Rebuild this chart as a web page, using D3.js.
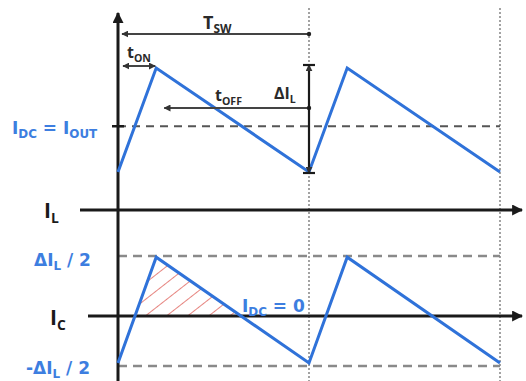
<!DOCTYPE html>
<html><head><meta charset="utf-8">
<script src="https://cdn.jsdelivr.net/npm/d3@7"></script>
<style>body{margin:0;background:#fff}svg{display:block}</style>
</head><body>
<script>
// Time in units of T_SW, on-time fraction
const periods = [0, 1, 2];
const tOn = 0.2;
// Inductor current I_L (normalized, I_OUT ≈ 1)
const ilTimes  = [0, 0.2, 1, 1.2, 2];
const ilValues = [0.75, 1.25, 0.75, 1.25, 0.75];
const iDC = 0.97;
// Capacitor current I_C (in units of ΔI_L)
const icTimes  = [0, 0.2, 1, 1.2, 2];
const icValues = [-0.47, 0.49, -0.47, 0.49, -0.47];
const icLevels = [0.5, -0.5];

const W = 526, H = 381;
const blue = "#2f72d9", labelBlue = "#3d7ee0", ink = "#1a1a1a", grey = "#8a8a8a";
const svg = d3.select("body").append("svg").attr("width", W).attr("height", H)
  .style("font-family", "'Open Sans', 'DejaVu Sans', sans-serif");

const x = d3.scaleLinear().domain([0, 2]).range([118, 500]);
const yL = d3.scaleLinear().domain([0.75, 1.25]).range([172, 68]);
const yC = d3.scaleLinear().domain([-0.5, 0, 0.5]).range([366, 316, 256]);
const ilAxisY = 210;

const defs = svg.append("defs");
function marker(id, color, size) {
  defs.append("marker").attr("id", id).attr("viewBox", "0 0 10 10")
    .attr("refX", 9).attr("refY", 5).attr("markerWidth", size).attr("markerHeight", size)
    .attr("orient", "auto-start-reverse").attr("markerUnits", "userSpaceOnUse")
    .append("path").attr("d", "M0,0 L10,5 L0,10 z").attr("fill", color);
}
marker("ah", ink, 11);
marker("sm", "#333", 7);

// Vertical dotted period lines
svg.selectAll("line.period").data(periods.slice(1)).join("line")
  .attr("x1", d => x(d)).attr("x2", d => x(d)).attr("y1", 8).attr("y2", H)
  .attr("stroke", "#666").attr("stroke-width", 1.2).attr("stroke-dasharray", "2,2");

// Dashed reference levels
svg.append("line").attr("x1", x(0)).attr("x2", x(2)).attr("y1", yL(iDC)).attr("y2", yL(iDC))
  .attr("stroke", "#555").attr("stroke-width", 2).attr("stroke-dasharray", "8,6");
svg.selectAll("line.lev").data(icLevels).join("line")
  .attr("x1", x(0)).attr("x2", x(2)).attr("y1", d => yC(d)).attr("y2", d => yC(d))
  .attr("stroke", grey).attr("stroke-width", 2.5).attr("stroke-dasharray", "9,6");

// Hatched area under I_C above zero (first period)
const pat = defs.append("pattern").attr("id", "hatch").attr("patternUnits", "userSpaceOnUse")
  .attr("width", 13).attr("height", 13).attr("patternTransform", "rotate(52)");
pat.append("line").attr("x1", 0).attr("x2", 0).attr("y1", 0).attr("y2", 13)
  .attr("stroke", "#d9423a").attr("stroke-width", 1.3);
const z = yC(0);
const p0 = [x(icTimes[0]), yC(icValues[0])], p1 = [x(icTimes[1]), yC(icValues[1])], p2 = [x(icTimes[2]), yC(icValues[2])];
const cross = (a, b) => a[0] + (z - a[1]) / (b[1] - a[1]) * (b[0] - a[0]);
svg.append("path").attr("d", `M${cross(p0, p1)},${z} L${p1[0]},${p1[1]} L${cross(p1, p2)},${z} Z`)
  .attr("fill", "url(#hatch)");

// Axes
svg.append("line").attr("x1", x(0)).attr("x2", x(0)).attr("y1", H).attr("y2", 13)
  .attr("stroke", ink).attr("stroke-width", 3).attr("marker-end", "url(#ah)");
svg.append("line").attr("x1", 80).attr("x2", 522).attr("y1", ilAxisY).attr("y2", ilAxisY)
  .attr("stroke", ink).attr("stroke-width", 3).attr("marker-end", "url(#ah)");
svg.append("line").attr("x1", 88).attr("x2", 522).attr("y1", yC(0)).attr("y2", yC(0))
  .attr("stroke", ink).attr("stroke-width", 3).attr("marker-end", "url(#ah)");
svg.append("line").attr("x1", x(0) - 6).attr("x2", x(0) + 6).attr("y1", yL(iDC)).attr("y2", yL(iDC))
  .attr("stroke", ink).attr("stroke-width", 2.5);

// Waveforms
const line = (ys) => d3.line().x(d => x(d[0])).y(d => ys(d[1]));
svg.append("path").datum(ilTimes.map((t, i) => [t, ilValues[i]])).attr("d", line(yL))
  .attr("fill", "none").attr("stroke", blue).attr("stroke-width", 3).attr("stroke-linejoin", "miter");
svg.append("path").datum(icTimes.map((t, i) => [t, icValues[i]])).attr("d", line(yC))
  .attr("fill", "none").attr("stroke", blue).attr("stroke-width", 3).attr("stroke-linejoin", "miter");

// Dimension arrows
function dim(x1, x2, y, startArrow, endArrow, dot) {
  const l = svg.append("line").attr("x1", x1).attr("x2", x2).attr("y1", y).attr("y2", y)
    .attr("stroke", "#444").attr("stroke-width", 1.8);
  if (startArrow) l.attr("marker-start", "url(#sm)");
  if (endArrow) l.attr("marker-end", "url(#sm)");
  if (dot) svg.append("circle").attr("cx", x2).attr("cy", y).attr("r", 2.2).attr("fill", "#222");
}
dim(x(0) + 4, x(1), 34, true, false, true);
dim(x(0) + 5, x(tOn) - 1, 66, true, true, false);
dim(x(tOn) + 8, x(1), 108, true, false, true);
// ΔI_L vertical arrow
const xv = x(1);
svg.append("line").attr("x1", xv).attr("x2", xv).attr("y1", yL(1.25) - 3).attr("y2", yL(0.75) + 1)
  .attr("stroke", ink).attr("stroke-width", 2.2).attr("marker-start", "url(#sm)").attr("marker-end", "url(#sm)");
[yL(1.25) - 3, yL(0.75) + 1].forEach(yy => svg.append("line").attr("x1", xv - 6).attr("x2", xv + 6)
  .attr("y1", yy).attr("y2", yy).attr("stroke", ink).attr("stroke-width", 2.2));

// Labels with subscripts
function label(px, py, parts, color, size, family, subRatio) {
  const r = subRatio || 0.66;
  const t = svg.append("text").attr("x", px).attr("y", py).attr("fill", color)
    .attr("font-weight", "bold").attr("font-size", size);
  if (family) t.attr("font-family", family);
  parts.forEach(([s, sub], i) => {
    const ts = t.append("tspan").text(s);
    if (sub) ts.attr("font-size", size * r).attr("dy", size * 0.22);
    else if (i > 0 && parts[i - 1][1]) ts.attr("dy", -size * 0.22);
  });
  return t;
}
const dv = "'DejaVu Sans', sans-serif";
label(203, 29, [["T"], ["SW", 1]], "#2a2a2a", 18);
label(127, 58, [["t"], ["ON", 1]], "#2a2a2a", 16);
label(215, 101, [["t"], ["OFF", 1]], "#2a2a2a", 16);
label(274, 99, [["ΔI"], ["L", 1]], "#2a2a2a", 16);
label(12, 134, [["I"], ["DC", 1], [" = I"], ["OUT", 1]], labelBlue, 17, dv, 0.7);
label(44, 218, [["I"], ["L", 1]], ink, 21);
label(50, 325, [["I"], ["C", 1]], ink, 21);
label(242, 312, [["I"], ["DC", 1], [" = 0"]], labelBlue, 17, dv, 0.7);
label(34, 266, [["ΔI"], ["L", 1], [" / 2"]], labelBlue, 17, dv, 0.7);
label(26, 374, [["-ΔI"], ["L", 1], [" / 2"]], labelBlue, 17, dv, 0.7);
</script>
</body></html>
